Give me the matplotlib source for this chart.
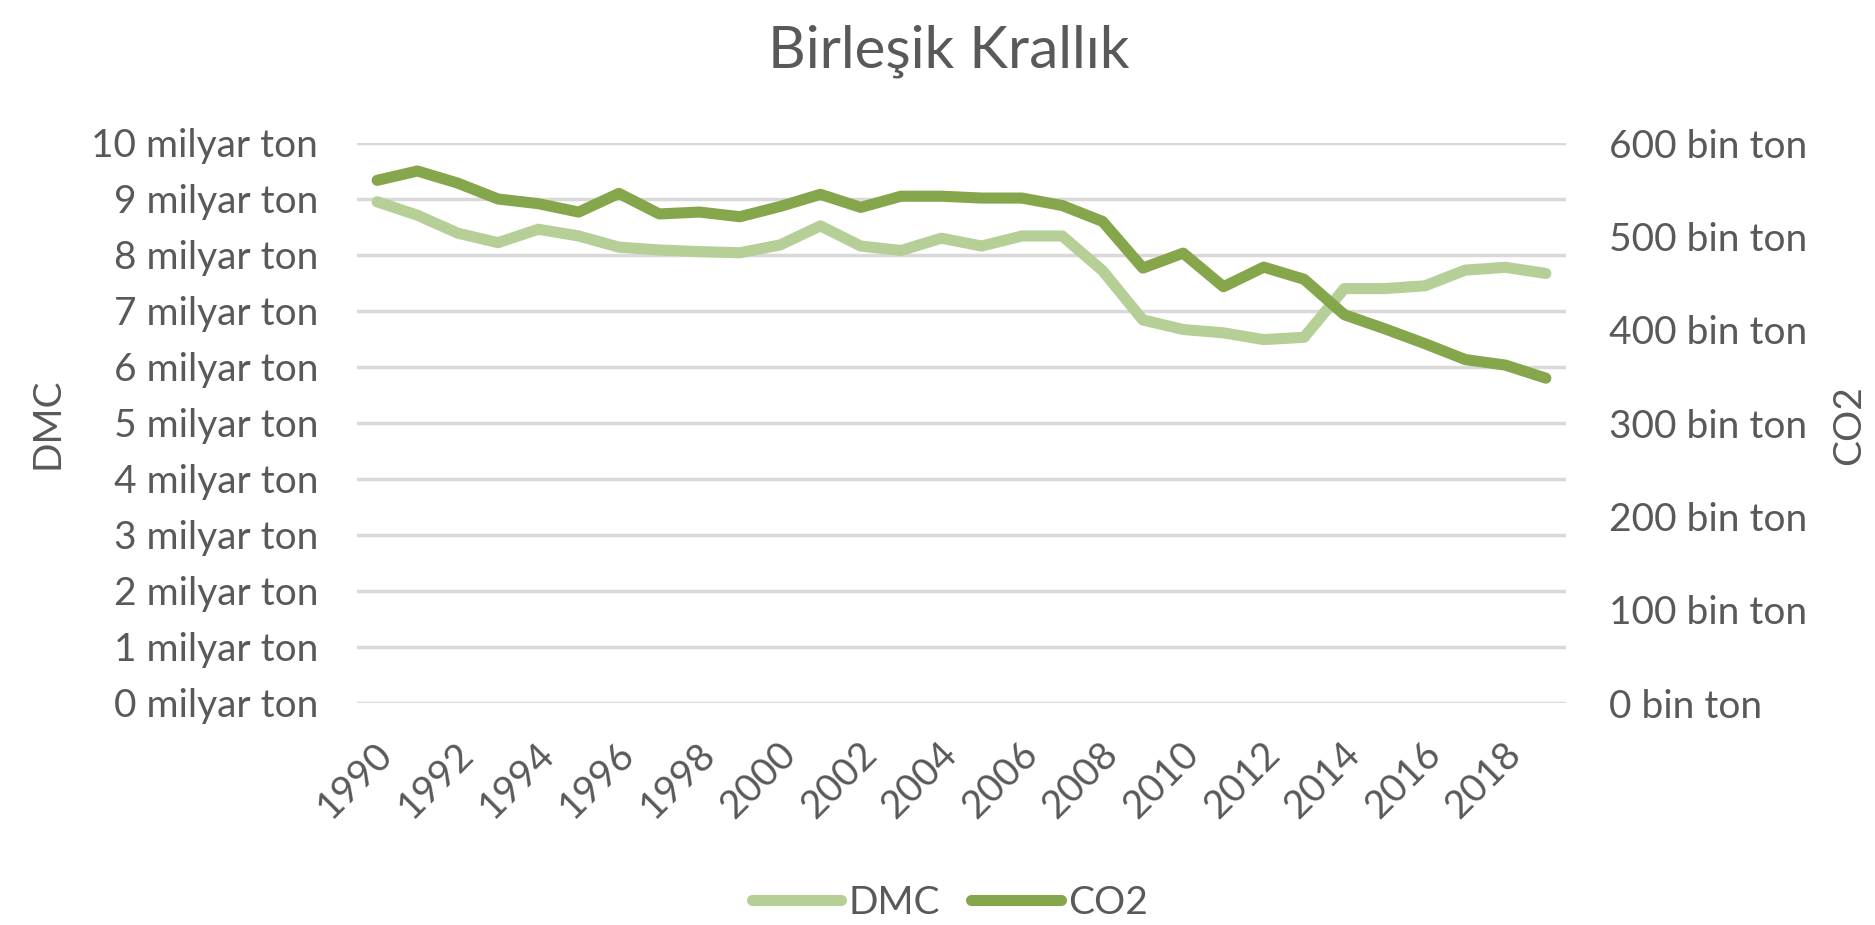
import matplotlib
matplotlib.use("Agg")
import matplotlib.pyplot as plt
import matplotlib.transforms as mtransforms
from matplotlib.lines import Line2D

plt.rcParams['font.family'] = ['Lato', 'DejaVu Sans']

years = list(range(1990, 2020))
dmc = [8.95, 8.71, 8.39, 8.22, 8.46, 8.34, 8.14, 8.09, 8.06, 8.04,
       8.18, 8.52, 8.16, 8.08, 8.30, 8.16, 8.34, 8.34, 7.72, 6.84,
       6.67, 6.61, 6.49, 6.53, 7.40, 7.40, 7.45, 7.73, 7.78, 7.67]
co2 = [560, 570, 557, 540, 535, 526, 546, 524, 526, 521,
       532, 545, 531, 543, 543, 541, 541, 533, 516, 466,
       482, 446, 467, 454, 416, 401, 385, 368, 362, 348]
left_ticks = list(range(0, 11))
right_ticks = list(range(0, 601, 100))

light = '#B5CF97'
dark = '#86A64B'
txt = '#595959'
fs = 28

fig = plt.figure(figsize=(18.75, 9.25), dpi=100)
ax = fig.add_axes([357/1875, 1 - 703/925, (1566-357)/1875, (703-143)/925])
ax2 = ax.twinx()

x = list(range(len(years)))
ax.plot(x, dmc, color=light, lw=8, solid_capstyle='round', solid_joinstyle='round')
ax2.plot(x, co2, color=dark, lw=8, solid_capstyle='round', solid_joinstyle='round')

ax.set_xlim(-0.5, len(years) - 0.5)
ax.set_ylim(0, 10)
ax2.set_ylim(0, 600)

ax.set_yticks(left_ticks)
ax.set_yticklabels([f'{v} milyar ton' for v in left_ticks])
ax2.set_yticks(right_ticks)
ax2.set_yticklabels([f'{v} bin ton' for v in right_ticks])

ax.grid(axis='y', color='#D9D9D9', lw=2.5)
ax.set_axisbelow(True)

for a in (ax, ax2):
    for s in a.spines.values():
        s.set_visible(False)
ax.tick_params(axis='y', length=0, pad=28, labelsize=fs, labelcolor=txt)
ax2.tick_params(axis='y', length=0, pad=31, labelsize=fs, labelcolor=txt)

ax.set_xticks(x[::2])
ax.set_xticklabels([str(y) for y in years[::2]], rotation=45, ha='right',
                   va='center', rotation_mode='anchor')
ax.tick_params(axis='x', length=0, pad=33, labelsize=fs, labelcolor=txt)
offset = mtransforms.ScaledTranslation(10/100, 0, fig.dpi_scale_trans)
for lab in ax.get_xticklabels():
    lab.set_transform(lab.get_transform() + offset)

fig.text(949/1875, 1 - 68/925, 'Birleşik Krallık', ha='center', va='baseline',
         fontsize=42, color=txt)
fig.text(48/1875, 1 - 423/925, 'DMC', rotation=90, ha='center', va='center',
         fontsize=fs, color=txt)
fig.text(1849/1875, 1 - 425/925, 'CO2', rotation=90, ha='center', va='center',
         fontsize=fs, color=txt)

handles = [Line2D([], [], color=light, lw=8, solid_capstyle='round'),
           Line2D([], [], color=dark, lw=8, solid_capstyle='round')]
leg = fig.legend(handles, ['DMC', 'CO2'], loc='center',
                 bbox_to_anchor=(950/1875, 1 - 903/925), ncol=2, frameon=False,
                 fontsize=fs, handlelength=2.3, handletextpad=0.2,
                 columnspacing=0.8)
for t in leg.get_texts():
    t.set_color(txt)

fig.savefig('out.png', dpi=100)
